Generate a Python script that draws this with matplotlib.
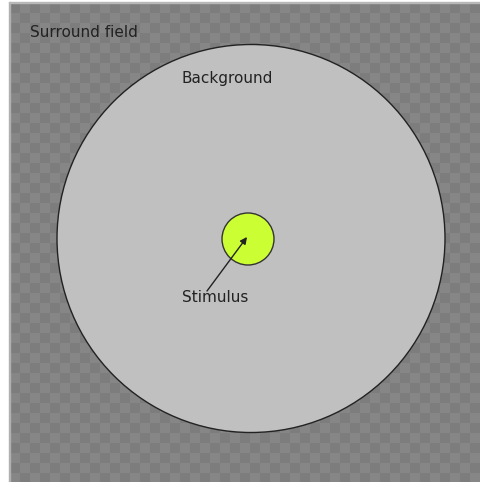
import numpy as np
import matplotlib.pyplot as plt
from matplotlib.patches import Circle, Rectangle

# layout values (pixel coordinates)
labels = ["Surround field", "Background", "Stimulus"]
label_xy = [(30, 32), (182, 78), (182, 298)]
field_box = (10, 3, 481, 482)          # x0, y0, x1, y1 of the checkered field
bg_circle = (251, 238.5, 194)         # cx, cy, r
stim_circle = (248, 239, 26)
arrow_tail = (207, 291)
arrow_head = (247, 237)

fig = plt.figure(figsize=(4.81, 4.82), dpi=100)
ax = fig.add_axes([0, 0, 1, 1])
ax.axis("off")

# checkered surround field
x0, y0, x1, y1 = field_box
sq = 10
ny = int(np.ceil((y1 - y0) / sq))
nx = int(np.ceil((x1 - x0) / sq))
yy, xx = np.indices((ny, nx))
checker = np.where((xx + yy) % 2 == 0, 0.49, 0.525)
ax.imshow(checker, cmap="gray", vmin=0, vmax=1, interpolation="nearest",
          extent=(x0, x0 + nx * sq, y0 + ny * sq, y0), zorder=1)
ax.add_patch(Rectangle((x0 - 1, y0 - 1), 1.5, y1 - y0 + 1, color="#b0b0b0", zorder=2))
ax.add_patch(Rectangle((x0 - 1, y0 - 1), x1 - x0 + 1, 1.2, color="#b8b8b8", zorder=2))
ax.set_xlim(0, 481)
ax.set_ylim(482, 0)

# background circle
cx, cy, r = bg_circle
ax.add_patch(Circle((cx, cy), r, facecolor="#c0c0c0", edgecolor="#222222", lw=1.0, zorder=3))

# stimulus
cx, cy, r = stim_circle
ax.add_patch(Circle((cx, cy), r, facecolor="#ccff33", edgecolor="#333333", lw=1.0, zorder=4))

ax.annotate("", xy=arrow_head, xytext=arrow_tail,
            arrowprops=dict(arrowstyle="-|>", color="#222222", lw=1.0, mutation_scale=10,
                            shrinkA=0, shrinkB=0),
            zorder=5)

for text, (tx, ty) in zip(labels, label_xy):
    ax.text(tx, ty, text, fontsize=11, color="#222222", ha="left", va="center",
            family="DejaVu Sans", zorder=6)

fig.savefig("out.png", dpi=100)
